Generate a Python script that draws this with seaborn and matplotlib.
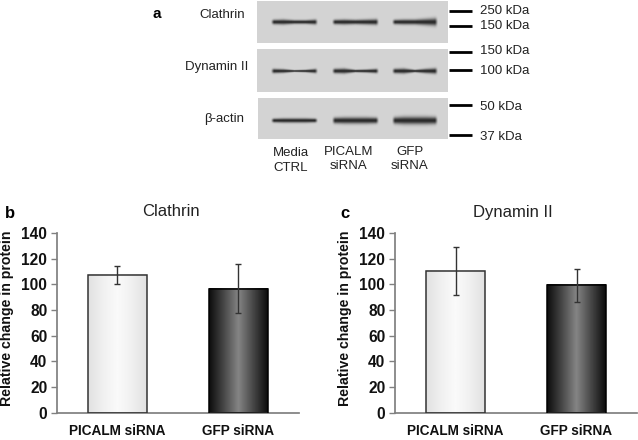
import numpy as np
import pandas as pd
import seaborn as sns
import matplotlib.pyplot as plt

# bar chart values
groups = ['PICALM siRNA', 'GFP siRNA']
clathrin_mean = [107, 96]
clathrin_low = [100, 77.5]
clathrin_high = [114, 115.5]
dynamin_mean = [110.5, 99.5]
dynamin_low = [92, 86.5]
dynamin_high = [129, 112]
yticks = [0, 20, 40, 60, 80, 100, 120, 140]

# blot labels
lanes = ['Media\nCTRL', 'PICALM\nsiRNA', 'GFP\nsiRNA']
blot_names = ['Clathrin', 'Dynamin II', 'β-actin']
marker_labels = ['250 kDa', '150 kDa', '150 kDa', '100 kDa', '50 kDa', '37 kDa']
# band thickness (px) along each lane, left to right
clathrin_bands = [[3.5, 4, 3, 3, 4], [3.5, 4, 3.5, 4, 4.5], [3.5, 4, 4, 5, 6]]
dynamin_bands = [[3.5, 3, 1.5, 2, 3.5], [3.5, 4, 2, 2.5, 3.5], [3.5, 4, 2, 3.5, 4.5]]
actin_bands = [[3, 3.5, 3.5, 3.5, 3], [4.5, 5, 5, 5, 4.5], [5, 6, 6, 6, 5.5]]

sns.set_theme(style='white')
plt.rcParams['font.family'] = ['Liberation Sans', 'DejaVu Sans']

W, H = 638, 440
fig = plt.figure(figsize=(W / 100, H / 100), dpi=100, facecolor='white')


def add_axes_px(x0, y0, x1, y1):
    return fig.add_axes([x0 / W, 1 - y1 / H, (x1 - x0) / W, (y1 - y0) / H])


# overlay in pixel coords for the blot part and panel letters
top = add_axes_px(0, 0, W, H)

blot_boxes = [(257, 1, 448, 43, 22), (257, 49, 448, 92, 71), (258, 98, 448, 139, 120.5)]
lane_x = [(272, 317), (333, 378), (393, 437)]
label_pos = [(245, 15), (248, 67), (244, 119)]
for box, bands, name, lp in zip(blot_boxes, [clathrin_bands, dynamin_bands, actin_bands], blot_names, label_pos):
    x0, y0, x1, y1, yc = box
    # soft bands on a grey membrane
    xx, yy = np.meshgrid(np.arange(x0, x1) + 0.5, np.arange(y0, y1) + 0.5)
    dark_part = np.zeros(xx.shape)
    for (a, b), thick in zip(lane_x, bands):
        t = np.interp(xx, np.linspace(a, b, len(thick)), thick)
        edge = np.clip((xx - a + 1) / 3, 0, 1) * np.clip((b + 1 - xx) / 3, 0, 1)
        dark_part = np.maximum(dark_part, edge * np.exp(-((yy - yc) / (t * 0.62)) ** 2))
    img = 0.83 - 0.66 * dark_part
    top.imshow(img, cmap='gray', vmin=0, vmax=1, extent=(x0, x1, y1, y0), aspect='auto', interpolation='bilinear')
    top.text(lp[0], lp[1], name, ha='right', va='center', fontsize=9.5, color='#222222')

marker_y = [11, 26, 52, 70, 105, 135]
marker_text_y = [11, 26, 51, 71, 107, 137]
for y, ty, lab in zip(marker_y, marker_text_y, marker_labels):
    top.plot([449, 472], [y, y], color='black', lw=2, solid_capstyle='butt')
    top.text(480, ty, lab, ha='left', va='center', fontsize=9.5, color='#222222')

for x, yy_lab, lab in zip([291, 349, 410], [160.5, 159, 159], lanes):
    top.text(x, yy_lab, lab, ha='center', va='center', fontsize=9.5, color='#222222', linespacing=1.25)

top.text(157, 14, 'a', fontsize=11, fontweight='bold', ha='center', va='center', color='black')
top.text(10, 214, 'b', fontsize=12, fontweight='bold', ha='center', va='center', color='black')
top.text(345, 214, 'c', fontsize=12, fontweight='bold', ha='center', va='center', color='black')
top.text(171, 212, 'Clathrin', fontsize=12, ha='center', va='center', color='#222222')
top.text(513, 212, 'Dynamin II', fontsize=12, ha='center', va='center', color='#222222')

top.set_xlim(0, W)
top.set_ylim(H, 0)
top.axis('off')

# horizontal gradients for the bars
light = np.array([0.88, 0.94, 0.98, 0.94, 0.88])
dark = np.array([0.05, 0.28, 0.52, 0.28, 0.05])


def bar_panel(box, means, lows, highs):
    ax = add_axes_px(*box)
    df = pd.DataFrame({'group': groups, 'value': means})
    sns.barplot(data=df, x='group', y='value', ax=ax, width=0.48, color='white',
                edgecolor='#333333', linewidth=1.1, errorbar=None, zorder=3)
    for patch, grad in zip(ax.patches, [light, dark]):
        x, y = patch.get_x(), patch.get_y()
        w, h = patch.get_width(), patch.get_height()
        fine = np.interp(np.linspace(0, 4, 200), np.arange(5), grad)[None, :]
        ax.imshow(fine, cmap='gray', vmin=0, vmax=1, aspect='auto', zorder=3.5,
                  extent=(x, x + w, y, y + h))
    ax.patches[1].set_edgecolor('black')
    for p in ax.patches:
        p.set_zorder(4)
        p.set_facecolor('none')
    centers = np.arange(len(groups))
    means = np.array(means)
    ax.errorbar(centers, means, yerr=[means - np.array(lows), np.array(highs) - means], fmt='none',
                ecolor='#333333', elinewidth=1, capsize=2, capthick=1, zorder=5)
    ax.set_xlim(-0.5, 1.5)
    ax.set_ylim(0, 140)
    ax.set_yticks(yticks)
    ax.set_xlabel('')
    ax.set_ylabel('Relative change in protein', fontsize=10.2, fontweight='bold', color='#111111')
    # label sits a little above the axis middle in the reference
    ax.yaxis.set_label_coords(-0.178, 0.526)
    ax.tick_params(axis='y', length=4, width=1, color='#808080', left=True, pad=3)
    ax.tick_params(axis='x', length=0, pad=8)
    for lab in ax.get_yticklabels():
        lab.set_fontsize(11.2)
        lab.set_fontweight('bold')
        lab.set_color('#111111')
    for lab in ax.get_xticklabels():
        lab.set_fontsize(9.8)
        lab.set_fontweight('bold')
        lab.set_color('#111111')
    sns.despine(ax=ax)
    ax.spines['left'].set_color('#808080')
    ax.spines['bottom'].set_color('#808080')
    ax.patch.set_alpha(0)
    return ax


bar_panel((57, 233, 299, 412.5), clathrin_mean, clathrin_low, clathrin_high)
bar_panel((395, 233, 637, 412.5), dynamin_mean, dynamin_low, dynamin_high)

fig.savefig('out.png', dpi=100)
